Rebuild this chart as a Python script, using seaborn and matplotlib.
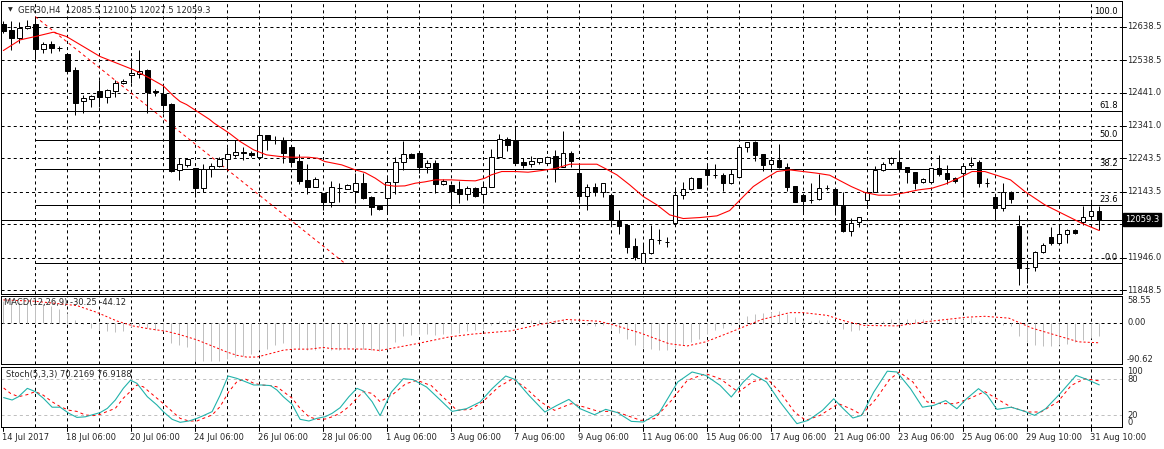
import numpy as np
import pandas as pd
import matplotlib
matplotlib.use("Agg")
import matplotlib.pyplot as plt
import seaborn as sns
from matplotlib.transforms import blended_transform_factory as btf, offset_copy

# ---------------- data ----------------
opens = [12646, 12628.6, 12603.6, 12634.6, 12646.6, 12572.6, 12586.6, 12573.6, 12556.6, 12508.6,
         12414.6, 12422.6, 12446.6, 12428.6, 12446.6, 12468.6, 12492.6, 12496.6, 12508.6, 12446.6,
         12436.6, 12406.6, 12208.6, 12224.6, 12214.6, 12153.6, 12210.6, 12220.6, 12240.6, 12254.6,
         12262.6, 12258.6, 12246.6, 12312.6, 12298.6, 12296.6, 12276.6, 12236.6, 12178.6, 12158.6,
         12138.6, 12113.6, 12154.6, 12152.6, 12144.6, 12168.6, 12126.6, 12100.6, 12125.6, 12171.6,
         12231.6, 12256.6, 12258.6, 12218.6, 12228.6, 12166.6, 12162.6, 12150.6, 12137.6, 12153.6,
         12137.6, 12158.6, 12248.6, 12300.6, 12296.6, 12232.6, 12225.6, 12233.6, 12228.6, 12250.6,
         12218.6, 12258.6, 12198.6, 12130.6, 12156.6, 12143.6, 12133.6, 12056.6, 12044.6, 11980.6,
         11928.6, 11958.6, 11998.6, 11993.6, 12050.6, 12134.6, 12150.6, 12183.6, 12210.6, 12193.6,
         12193.6, 12168.6, 12188.6, 12278.6, 12291.6, 12256.6, 12225.6, 12237.6, 12216.6, 12160.6,
         12133.6, 12118.6, 12120.6, 12154.6, 12150.6, 12100.6, 12026.6, 12051.6, 12118.6, 12141.6,
         12208.6, 12228.6, 12232.6, 12216.6, 12202.6, 12171.6, 12171.6, 12213.6, 12198.6, 12183.6,
         12198.6, 12222.6, 12232.6, 12170.6, 12128.6, 12093.6, 12142.6, 12040.6, 11915.6, 11916.6,
         11961.6, 12008.6, 11988.6, 12015.6, 12027.6, 12053.6, 12071.6, 12085.5]
highs = [12655, 12656, 12653.6, 12658.6, 12668.6, 12593.6, 12594.6, 12580.6, 12560.6, 12518.6,
         12433.6, 12433.6, 12478.6, 12452.6, 12478.6, 12480.6, 12543.6, 12568.6, 12510.6, 12450.6,
         12463.6, 12408.6, 12243.6, 12243.6, 12214.6, 12226.6, 12228.6, 12248.6, 12278.6, 12298.6,
         12278.6, 12264.6, 12338.6, 12312.6, 12310.6, 12308.6, 12283.6, 12256.6, 12226.6, 12188.6,
         12138.6, 12175.6, 12168.6, 12166.6, 12198.6, 12200.6, 12130.6, 12102.6, 12190.6, 12248.6,
         12296.6, 12260.6, 12265.6, 12238.6, 12238.6, 12180.6, 12162.6, 12176.6, 12160.6, 12156.6,
         12168.6, 12270.6, 12315.6, 12308.6, 12333.6, 12243.6, 12250.6, 12243.6, 12250.6, 12268.6,
         12326.6, 12265.6, 12223.6, 12165.6, 12168.6, 12170.6, 12133.6, 12088.6, 12044.6, 12003.6,
         11990.6, 12043.6, 12030.6, 12008.6, 12158.6, 12171.6, 12186.6, 12183.6, 12226.6, 12226.6,
         12198.6, 12210.6, 12280.6, 12291.6, 12296.6, 12256.6, 12248.6, 12286.6, 12228.6, 12160.6,
         12133.6, 12168.6, 12196.6, 12163.6, 12150.6, 12143.6, 12063.6, 12068.6, 12148.6, 12220.6,
         12233.6, 12248.6, 12268.6, 12216.6, 12202.6, 12183.6, 12213.6, 12253.6, 12223.6, 12186.6,
         12223.6, 12246.6, 12238.6, 12183.6, 12133.6, 12170.6, 12145.6, 12073.6, 11932.6, 11965.6,
         11990.6, 12038.6, 12043.6, 12030.6, 12030.6, 12100.6, 12113.6, 12100.5]
lows = [12620, 12568, 12588.6, 12633, 12540.6, 12560.6, 12558.6, 12566.6, 12504.6, 12372.6,
        12378.6, 12398.6, 12398.6, 12410.6, 12426.6, 12466.6, 12468.6, 12483.6, 12380.6, 12430.6,
        12380.6, 12202.6, 12178.6, 12218.6, 12128.6, 12143.6, 12186.6, 12218.6, 12210.6, 12248.6,
        12238.6, 12248.6, 12243.6, 12268.6, 12286.6, 12230.6, 12216.6, 12166.6, 12136.6, 12156.6,
        12088.6, 12098.6, 12113.6, 12150.6, 12108.6, 12120.6, 12073.6, 12088.6, 12076.6, 12136.6,
        12208.6, 12243.6, 12198.6, 12198.6, 12140.6, 12163.6, 12098.6, 12110.6, 12118.6, 12128.6,
        12110.6, 12156.6, 12248.6, 12266.6, 12230.6, 12215.6, 12216.6, 12226.6, 12226.6, 12173.6,
        12216.6, 12218.6, 12110.6, 12088.6, 12130.6, 12128.6, 12043.6, 12016.6, 11958.6, 11938.6,
        11928.6, 11956.6, 11986.6, 11978.6, 12050.6, 12121.6, 12148.6, 12155.6, 12163.6, 12183.6,
        12146.6, 12166.6, 12188.6, 12263.6, 12236.6, 12206.6, 12206.6, 12214.6, 12146.6, 12113.6,
        12076.6, 12110.6, 12118.6, 12148.6, 12073.6, 12023.6, 12011.6, 12036.6, 12103.6, 12141.6,
        12206.6, 12223.6, 12203.6, 12168.6, 12150.6, 12170.6, 12168.6, 12190.6, 12166.6, 12170.6,
        12126.6, 12216.6, 12158.6, 12158.6, 12060.6, 12086.6, 12110.6, 11863.6, 11870.6, 11906.6,
        11958.6, 11983.6, 11986.6, 11990.6, 12016.6, 12042.6, 12060.6, 12027.5]
closes = [12627, 12603.6, 12633.6, 12640.6, 12572.6, 12586.6, 12574.6, 12573.6, 12506.6, 12410.6,
          12424.6, 12430.6, 12428.6, 12448.6, 12468.6, 12476.6, 12500.6, 12506.6, 12443.6, 12442.6,
          12404.6, 12204.6, 12226.6, 12242.6, 12153.6, 12212.6, 12220.6, 12240.6, 12256.6, 12262.6,
          12258.6, 12254.6, 12312.6, 12298.6, 12298.6, 12258.6, 12233.6, 12176.6, 12158.6, 12180.6,
          12113.6, 12156.6, 12154.6, 12164.6, 12168.6, 12123.6, 12098.6, 12090.6, 12171.6, 12231.6,
          12255.6, 12243.6, 12218.6, 12228.6, 12166.6, 12176.6, 12145.6, 12137.6, 12153.6, 12130.6,
          12158.6, 12246.6, 12300.6, 12284.6, 12230.6, 12224.6, 12235.6, 12243.6, 12248.6, 12212.6,
          12260.6, 12234.6, 12130.6, 12156.6, 12143.6, 12168.6, 12058.6, 12041.6, 11978.6, 11946.6,
          11958.6, 12000.6, 11998.6, 11993.6, 12132.6, 12150.6, 12183.6, 12155.6, 12194.6, 12193.6,
          12168.6, 12195.6, 12278.6, 12291.6, 12254.6, 12224.6, 12237.6, 12218.6, 12158.6, 12113.6,
          12116.6, 12118.6, 12153.6, 12154.6, 12103.6, 12026.6, 12050.6, 12066.6, 12143.6, 12208.6,
          12225.6, 12245.6, 12215.6, 12201.6, 12170.6, 12180.6, 12213.6, 12197.6, 12182.6, 12175.6,
          12221.6, 12229.6, 12170.6, 12170.6, 12093.6, 12141.6, 12121.6, 11913.6, 11915.6, 11961.6,
          11983.6, 11988.6, 12016.6, 12027.6, 12018.6, 12068.6, 12084.6, 12059.3]

ma_x = [0, 2.1, 4, 6.25, 7.9, 10, 12.1, 14.2, 16.3, 18.3, 20, 21.3, 22.1, 22.9, 24.2, 25.8, 26.3, 28.3,
        29.6, 31.3, 32.9, 34.6, 36, 38.1, 39.3, 40.2, 42.3, 44, 45.2, 46.5, 47.7, 48.95, 50.2, 51.5,
        52.7, 54, 56, 57.7, 59, 60.2, 61, 62.3, 64, 65.6, 67.3, 69, 70.8, 74.2, 75.4, 76.7, 78.3, 80,
        81.7, 83.3, 85, 87.1, 89.2, 90.8, 92.1, 93.75, 95, 96.7, 98.3, 100, 101.7, 103.3, 104.4, 106,
        107.7, 109.4, 111, 112.4, 114.4, 116.1, 117.7, 119.4, 121.1, 122.7, 124.4, 125.9, 127.7,
        130.2, 132.7, 134.8, 137]
ma_v = [12567, 12599, 12609, 12622, 12609, 12579, 12549, 12529, 12509, 12484, 12461, 12430, 12414,
        12405, 12385, 12360, 12350, 12318, 12294, 12269, 12254, 12249, 12247, 12247, 12244, 12234,
        12224, 12209, 12201, 12184, 12164, 12160, 12161, 12169, 12173, 12179, 12179, 12177, 12176,
        12184, 12194, 12204, 12204, 12202, 12207, 12213, 12226, 12226, 12211, 12194, 12164, 12129,
        12104, 12074, 12063, 12066, 12071, 12087, 12119, 12159, 12179, 12204, 12209, 12204, 12199,
        12193, 12179, 12159, 12141, 12133, 12133, 12139, 12149, 12154, 12166, 12184, 12204, 12204,
        12191, 12179, 12144, 12104, 12074, 12049, 12027]

price_ticks = [12638.5, 12538.5, 12441.0, 12341.0, 12243.5, 12143.5, 12046.0, 11946.0, 11848.5]
fib_levels = ["100.0", "61.8", "50.0", "38.2", "23.6", "0.0"]
fib_high, fib_low = 12668.6, 11928.6
fib_start, fib_end = 4, 42.7
bid = 12059.3

macd = [48, 47, 46, 45, 43, 40, 36, 30, 22, 6,
        -2, -11, -15, -19, -21, -19, -9, -8, -12, -16,
        -19, -44, -49, -53, -83, -84, -84, -83, -79, -75,
        -72, -69, -60, -57, -49, -45, -56, -57, -60, -59,
        -60, -61, -59, -57, -56, -57, -61, -63, -58, -42,
        -30, -26, -25, -24, -26, -24, -24, -22, -18, -17,
        -14, -5, 3, 6, 5, 4, 5, 6, 7, 5,
        7, 6, -2, -5, -7, -6, -14, -22, -35, -48,
        -55, -58, -60, -61, -55, -50, -42, -35, -25, -17,
        -12, -5, 8, 15, 20, 22, 24, 25, 20, 12,
        6, 4, 5, 5, -3, -14, -18, -17, -10, -3,
        3, 8, 9, 9, 8, 7, 8, 9, 9, 8,
        9, 10, 4, 2, -4, -6, -8, -30, -42, -50,
        -52, -52, -50, -46, -42, -38, -33, -30.25]
sig_x = [0, 4, 9.2, 11.7, 14.2, 16.3, 18.3, 20.4, 22.1, 24.2, 25.8, 27.9, 29.2, 30.4, 31.7, 32.9,
         35, 36.3, 38.3, 40, 41.2, 45.4, 47.1, 51.7, 55.8, 58.7, 63.4, 66.9, 70.4, 74.4, 76.2, 79.7,
         83.2, 85.5, 87.8, 91.3, 94.8, 98.3, 100, 103, 105.3, 107.6, 111.7, 115.8, 120.4, 122.7,
         125.7, 128.6, 131.5, 134.4, 137]
sig_v = [50, 47, 37.5, 22.6, 3.7, -7.5, -13.6, -18.9, -26.4, -37.7, -49, -64, -71.6, -75.4, -75.4,
         -70, -60.3, -58, -58, -54.3, -57.3, -58, -61, -46, -31, -25, -18, -4.5, 7, 3.3, -4.5, -23,
         -46, -51, -42, -18, 7, 22, 22, 16, 3, -6, -7, 3, 12, 14, 10, -12, -27, -42, -44.12]
macd_top, macd_bot = 58.55, -90.62

st_x = [0.04, 1.1, 1.9, 3, 4, 5, 6.1, 7.1, 8.2, 9.2, 10.25, 11.3, 12.1, 13, 14, 15, 15.9, 16.7, 18,
        19.2, 20, 21.1, 22.1, 23.2, 24.2, 25, 26.1, 27.1, 28.1, 29.2, 30.25, 31.3, 32.3, 33.4, 34.2,
        35, 36.1, 37.1, 38.2, 39.2, 40.25, 41.1, 42.1, 43.2, 44.2, 45, 46.1, 47.1, 48.5, 50, 51.2,
        52.9, 54.7, 56.1, 57.9, 59.6, 61.1, 62.8, 64, 65.7, 67.7, 69.2, 70.7, 72.1, 73.9, 75.3, 76.8,
        78.5, 80, 82, 84.3, 86.1, 87.8, 89.6, 91, 92.5, 93.6, 95.4, 97.1, 99.2, 100.6, 102.4, 103.8,
        105, 106.2, 107.3, 108.8, 110.5, 111.7, 113.4, 114.9, 116.3, 117.8, 119.2, 120.4, 121.9,
        123, 124.2, 126, 127.7, 128.9, 130.3, 132.1, 134.1, 135.5, 137]
st_v = [49, 45, 50.5, 64.4, 59, 48, 33, 33, 22.8, 16, 17, 21, 24, 31, 45, 64.4, 78, 72.8, 50.5,
        36.7, 25.6, 12.8, 7.8, 10, 14.4, 18.9, 25.6, 53, 85, 81, 75.6, 70, 70, 69, 61.7, 50.5,
        37.8, 12.8, 10, 14.4, 17.2, 22.8, 32.2, 50.5, 64.4, 60, 42.2, 18.9, 58, 80.5, 79, 66.7, 44,
        26, 30.5, 41.7, 63.9, 85, 79, 52.8, 25, 36, 46, 30.5, 20.5, 29.4, 23.9, 9.4, 8.3, 23.9, 75,
        91.7, 86, 69.4, 50, 75, 88.9, 75, 41.7, 5.6, 11, 27.8, 47, 30.5, 15, 19.4, 58, 93, 91.7,
        63.9, 33, 36, 44, 30.5, 47, 63.9, 52.8, 29.4, 33, 26, 19.4, 30.5, 55.6, 86, 79, 70.2]
ss_x = [0.04, 0.9, 1.9, 3, 4, 5, 6.1, 7.1, 8.2, 9.2, 10.25, 11.3, 12.1, 13, 14, 15, 16.1, 16.7,
        17.5, 18.75, 20, 21.1, 22.1, 23.2, 24.2, 25, 26.1, 27.1, 28.2, 29.2, 30.25, 31.3, 32.3, 33.4,
        34.2, 35, 36.1, 37.1, 38.2, 39.2, 40.25, 41.1, 42.1, 43.2, 44.2, 45, 46.1, 47.1, 48.8, 50.3,
        51.7, 53.5, 55.2, 56.7, 58.4, 59.9, 61.9, 63.7, 65.4, 67.2, 68.9, 71, 72.7, 74.4, 76.5,
        77.9, 79.7, 81.4, 83.5, 85.5, 87.8, 89.6, 91.9, 93.6, 95.4, 97.1, 98.9, 100.3, 102.1, 104.4,
        105.9, 107.3, 109.1, 110.8, 112, 113.7, 115.5, 117.2, 119, 120.7, 122.7, 124.2, 126, 128,
        129.7, 131.8, 133.5, 135.2, 137]
ss_v = [65, 56, 50.5, 54, 59, 53, 42, 34, 28, 26, 20, 19, 21, 26, 31, 48, 62, 70, 67, 53, 39, 26,
        14.4, 10, 10, 14.4, 20, 34, 59, 75.6, 80, 72.8, 70, 69, 67, 59, 48, 31, 17, 12.8, 13.3, 17,
        22.8, 34, 48, 59, 56, 42, 55.6, 72, 77.8, 69, 47, 27.8, 29.4, 41.7, 66.7, 80.5, 63.9, 41.7,
        27.8, 38.9, 33, 26, 26, 19.4, 11, 13.9, 44, 77.8, 88.9, 80.5, 58, 75, 81.7, 58, 25, 11,
        19.4, 38.9, 30.5, 20.5, 47, 79.4, 91.7, 75, 41.7, 38.9, 38.9, 47, 59, 47, 33, 25, 25, 41.7,
        69.4, 80.5, 76.9]

date_labels = ["14 Jul 2017", "18 Jul 06:00", "20 Jul 06:00", "24 Jul 06:00", "26 Jul 06:00",
               "28 Jul 06:00", "1 Aug 06:00", "3 Aug 06:00", "7 Aug 06:00", "9 Aug 06:00",
               "11 Aug 06:00", "15 Aug 06:00", "17 Aug 06:00", "21 Aug 06:00", "23 Aug 06:00",
               "25 Aug 06:00", "29 Aug 10:00", "31 Aug 10:00"]

# ---------------- figure ----------------
sns.set_style("white")
plt.rcParams["font.family"] = ["DejaVu Sans"]
plt.rcParams["lines.scale_dashes"] = False
FS = 6.0
PX = 0.72
DASH = (0, (2.2, 2.2))

W, H = 1164, 449
fig = plt.figure(figsize=(W / 100, H / 100), dpi=100)
fig.patch.set_facecolor("white")


def add_ax(x0, y0, x1, y1):
    return fig.add_axes([x0 / W, 1 - y1 / H, (x1 - x0) / W, (y1 - y0) / H])


ax = add_ax(1, 1, 1122, 294)
axm = add_ax(1, 296, 1122, 364)
axs = add_ax(1, 367, 1122, 427)
XMIN, XMAX = -0.29, 139.84
n = len(opens)
idx = np.arange(n)

for a in (ax, axm, axs):
    a.set_xlim(XMIN, XMAX)
    a.set_xticks([])
    a.set_yticks([])
    a.set_facecolor("white")
    for s in a.spines.values():
        s.set_color("black")
        s.set_linewidth(PX)
    for k in range(4, 138, 4):
        a.axvline(k, color="black", lw=PX, ls=DASH, zorder=0.5)

# ---- main price panel ----
ax.set_ylim(11836.6, 12715.6)
for p in price_ticks:
    ax.axhline(p, color="black", lw=PX, ls=DASH, zorder=0.5)

fib_vals = [fib_low + (fib_high - fib_low) * float(s) / 100 for s in fib_levels]
ax.hlines(fib_vals, fib_start, XMAX, color="black", lw=PX, zorder=1)
tr_fib = offset_copy(btf(ax.transAxes, ax.transData), fig=fig, x=-4, y=1, units="dots")
for s, v in zip(fib_levels, fib_vals):
    ax.text(1.0, v, s, transform=tr_fib, ha="right", va="bottom", fontsize=FS, color="black", zorder=6)

ax.axhline(bid, color="black", lw=PX, zorder=1)

fib_df = pd.DataFrame({"x": [fib_start, fib_end], "y": [fib_high, fib_low]})
sns.lineplot(data=fib_df, x="x", y="y", ax=ax, color="red", lw=PX, ls=(0, (2.2, 2.2)), zorder=2)

ohlc = pd.DataFrame({"o": opens, "h": highs, "l": lows, "c": closes})
bull = ohlc["c"] >= ohlc["o"]
ax.vlines(idx, ohlc["l"], ohlc["h"], color="black", lw=PX, zorder=3)
bot = np.minimum(ohlc["o"], ohlc["c"])
hgt = np.abs(ohlc["c"] - ohlc["o"])
ax.bar(idx, hgt, bottom=bot, width=0.55, color=np.where(bull, "white", "black"),
       edgecolor="black", linewidth=PX, zorder=4)

ma_df = pd.DataFrame({"x": ma_x, "y": ma_v})
sns.lineplot(data=ma_df, x="x", y="y", ax=ax, color="red", lw=PX * 1.1, zorder=5, sort=False)
ax.set_xlabel("")
ax.set_ylabel("")
ax.set_xlim(XMIN, XMAX)
ax.set_ylim(11836.6, 12715.6)

tr_r = offset_copy(btf(ax.transAxes, ax.transData), fig=fig, x=5, y=0, units="dots")
for p in price_ticks:
    ax.text(1.0, p, f"{p:.1f}", transform=tr_r, ha="left", va="center", fontsize=FS, clip_on=False)
    ax.plot([XMAX, XMAX + 0.45], [p, p], color="black", lw=PX, clip_on=False)
ax.text(1.0, bid, f"{bid:.1f}", transform=offset_copy(btf(ax.transAxes, ax.transData), fig=fig, x=3, y=0, units="dots"),
        ha="left", va="center", fontsize=FS, color="white", clip_on=False, zorder=10,
        bbox=dict(boxstyle="square,pad=0.25", fc="black", ec="black"))

fig.text(8 / W, 1 - 10 / H, "\u25bc", fontsize=4.5, va="center", ha="left")
fig.text(18 / W, 1 - 10 / H, "GER30,H4  12085.5 12100.5 12027.5 12059.3", fontsize=FS, va="center", ha="left")

# ---- MACD panel ----
axm.set_ylim(macd_bot, macd_top)
axm.axhline(0, color="black", lw=PX, ls=DASH, zorder=0.5)
axm.vlines(idx, 0, macd, color="#C0C0C0", lw=PX, zorder=2)
sig_df = pd.DataFrame({"x": sig_x, "y": sig_v})
sns.lineplot(data=sig_df, x="x", y="y", ax=axm, color="red", lw=PX, ls=(0, (1.5, 1.5)), zorder=3, sort=False)
axm.set_xlabel("")
axm.set_ylabel("")
axm.set_xlim(XMIN, XMAX)
axm.set_ylim(macd_bot, macd_top)
tr_m = offset_copy(btf(axm.transAxes, axm.transData), fig=fig, x=5, y=0, units="dots")
axm.text(1.0, macd_top, f"{macd_top:.2f}", transform=tr_m, ha="left", va="top", fontsize=FS)
axm.text(1.0, 0, "0.00", transform=tr_m, ha="left", va="center", fontsize=FS)
axm.text(1.0, macd_bot, f"{macd_bot:.2f}", transform=tr_m, ha="left", va="bottom", fontsize=FS)
fig.text(4 / W, 1 - 303 / H, "MACD(12,26,9) -30.25 -44.12", fontsize=FS, va="center", ha="left")

# ---- Stochastic panel ----
axs.set_ylim(0, 100)
for lv in (80, 20):
    axs.axhline(lv, color="#C0C0C0", lw=PX, ls=DASH, zorder=0.6)
st_df = pd.DataFrame({"x": st_x, "y": st_v})
ss_df = pd.DataFrame({"x": ss_x, "y": ss_v})
sns.lineplot(data=ss_df, x="x", y="y", ax=axs, color="red", lw=PX, ls=(0, (2.2, 2.2)), zorder=3, sort=False)
sns.lineplot(data=st_df, x="x", y="y", ax=axs, color="#20B2AA", lw=PX * 1.1, zorder=4, sort=False)
axs.set_xlabel("")
axs.set_ylabel("")
axs.set_xlim(XMIN, XMAX)
axs.set_ylim(0, 100)
tr_s = offset_copy(btf(axs.transAxes, axs.transData), fig=fig, x=5, y=0, units="dots")
axs.text(1.0, 100, "100", transform=tr_s, ha="left", va="top", fontsize=FS)
axs.text(1.0, 80, "80", transform=tr_s, ha="left", va="center", fontsize=FS)
axs.text(1.0, 20, "20", transform=tr_s, ha="left", va="center", fontsize=FS)
axs.text(1.0, 0, "0", transform=tr_s, ha="left", va="bottom", fontsize=FS)
fig.text(6 / W, 1 - 375 / H, "Stoch(5,3,3) 70.2169 76.9188", fontsize=FS, va="center", ha="left")

tr_x = offset_copy(btf(axs.transData, axs.transAxes), fig=fig, x=-1.5, y=-10, units="dots")
for k, lab in enumerate(date_labels):
    i = 8 * k
    axs.text(i, 0, lab, transform=tr_x, ha="left", va="center", fontsize=FS, clip_on=False)
    axs.plot([i, i], [0, -6.5], color="black", lw=PX, clip_on=False)

fig.savefig("out.png", dpi=100, facecolor="white")
